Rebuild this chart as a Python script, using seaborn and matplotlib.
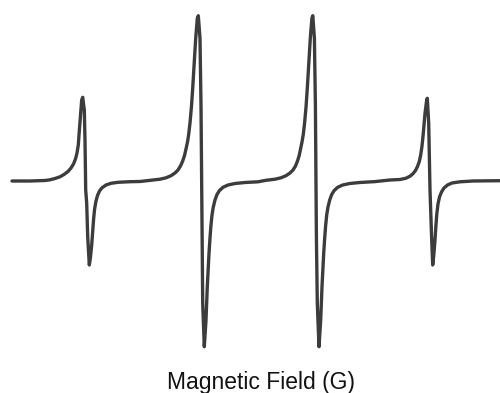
import matplotlib
matplotlib.use("Agg")
import matplotlib.pyplot as plt
import seaborn as sns
import pandas as pd

# Traced EPR derivative spectrum (field in arbitrary units, signal relative to baseline)
field = [
    # baseline + line 1
    12, 30, 45, 50, 55, 60, 64, 68, 71, 73.5, 75.5, 77, 78.3, 79.3, 80.7, 81.7, 82.7, 84.3, 85.0, 85.7,
    86.7, 87.7, 89.0, 89.3, 90.5, 91.7, 92.7, 93.6, 94.6, 96, 97.5, 99.5, 102, 106, 111, 118, 130, 140,
    # line 2
    150, 160, 166, 171, 175, 178, 180.5, 182.7, 184.5, 186, 187.5, 188.6, 190, 191.5, 192.7, 194.3, 195.7,
    197.3, 198.3, 200, 201, 201.7, 202.0, 202.7, 204.0, 204.3, 205.2, 206, 207.3, 208.2, 209, 210, 210.9,
    212, 213.3, 215, 217, 219.5, 223, 228, 235, 245, 258,
    # line 3
    266, 275, 281, 286, 290, 293, 295.5, 297.5, 299.2, 300.6, 302, 303.2, 304.6, 306.1, 307.3, 308.9, 310.3,
    311.9, 312.8, 314.4, 315.4, 316.1, 316.4, 317.3, 318.6, 319.0, 319.9, 320.7, 322.0, 322.9, 323.7, 324.7,
    325.6, 326.7, 328, 329.7, 331.7, 334.2, 337.7, 342.7, 349.7, 359.7, 375,
    # line 4
    390, 400, 406, 410, 413, 415.5, 417.5, 419.3, 420.7, 422, 423.3, 425, 426.7, 427.3, 428.7, 430, 431.7,
    432.7, 433.8, 435, 435.9, 436.8, 438, 439.5, 441.5, 444, 447.5, 452, 460, 473, 500,
]
signal = [
    0, 0, 0.5, 1.2, 2.5, 4.2, 6.5, 9.5, 13, 17, 22, 28, 36, 50, 67.7, 81, 83.7, 71, 41, -9,
    -22.3, -55.7, -79, -84, -76, -64, -50, -38, -28, -20, -14.5, -10, -6.8, -4, -2.3, -1.3, -0.7, -0.5,
    0.7, 1.8, 3.2, 5.3, 8, 11, 15, 20, 25.5, 32, 39, 46, 58, 75, 92.7, 119.3, 142.7,
    162.7, 165.3, 142.7, 76, -9, -55.7, -122.3, -155.7, -165.7, -152, -139, -105.7, -87, -72.3, -57, -45,
    -34, -26, -19, -13.5, -9.5, -6.3, -4, -2.5, -1.5, -0.8,
    0.7, 1.8, 3.2, 5.3, 8, 11, 15, 20, 25.5, 32, 39, 46, 58, 75, 92.7, 119.3, 142.7,
    162.7, 165.3, 142.7, 76, -9, -55.7, -122.3, -155.7, -165.7, -152, -139, -105.7, -87, -72.3, -57,
    -45, -34, -26, -19, -13.5, -9.5, -6.3, -4, -2.5, -1.5, -0.6,
    1, 1.5, 2.8, 4.8, 7.3, 10.5, 14.5, 19.5, 26, 35, 47.7, 67.7, 81, 82.7, 57.7, -9, -59,
    -84, -74, -59, -45, -33, -23, -16, -11, -7, -4, -2, -0.8, 0, 0.3,
]
x_label = "Magnetic Field (G)"

df = pd.DataFrame({"field": field, "signal": signal})

sns.set_style("white")
plt.rcParams["font.family"] = ["Liberation Sans", "DejaVu Sans"]

fig = plt.figure(figsize=(5.0, 3.93), dpi=100)
ax = fig.add_axes([0, 0, 1, 1])
sns.lineplot(data=df, x="field", y="signal", sort=False, estimator=None,
             color="#3c3c3c", linewidth=2.4, ax=ax)
ax.lines[0].set_solid_joinstyle("round")
ax.set_xlim(0, 500)
ax.set_ylim(-212, 181)
for s in ax.spines.values():
    s.set_visible(False)
ax.set_xticks([])
ax.set_yticks([])
ax.set_ylabel("")
ax.set_xlabel(x_label, fontsize=16.5, color="#111111")
ax.xaxis.set_label_coords(261 / 500, 4 / 393)
ax.xaxis.label.set_va("baseline")

fig.savefig("out.png", dpi=100)
